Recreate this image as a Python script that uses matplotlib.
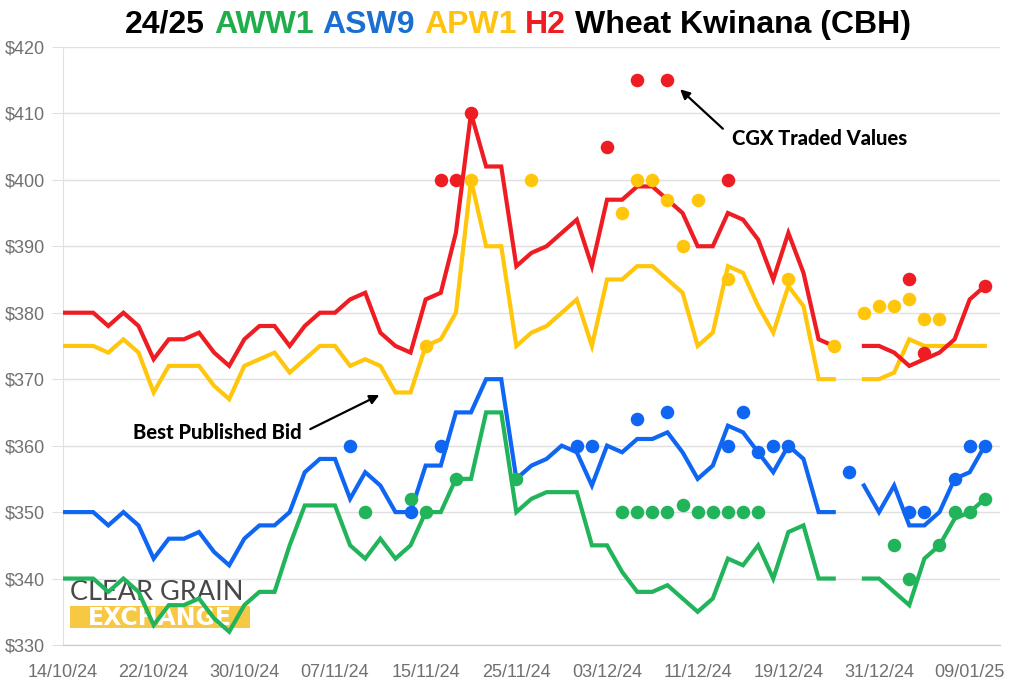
""" CGX wheat bids vs traded values, Kwinana zone """
import numpy as np
import pandas as pd
import matplotlib
matplotlib.use("Agg")
from matplotlib import pyplot as plt
from matplotlib import patches

# trading days (weekends and public holidays are skipped on the axis)
dates = pd.bdate_range("2024-10-14", "2025-01-10", freq="C",
                       holidays=["2024-12-25", "2024-12-26", "2025-01-01"])
tick_every = 6

nan = np.nan

# best published bid per grade ($/t), nan = no bid that day
h2_bid = [380, 380, 380, 378, 380, 378, 373, 376, 376, 377, 374, 372, 376, 378, 378, 375,
          378, 380, 380, 382, 383, 377, 375, 374, 382, 383, 392, 410, 402, 402, 387, 389,
          390, 392, 394, 387, 397, 397, 399, 399, 397, 395, 390, 390, 395, 394, 391, 385,
          392, 386, 376, 375, nan, 375, 375, 374, 372, 373, 374, 376, 382, 384]
apw1_bid = [375, 375, 375, 374, 376, 374, 368, 372, 372, 372, 369, 367, 372, 373, 374, 371,
            373, 375, 375, 372, 373, 372, 368, 368, 375, 376, 380, 400, 390, 390, 375, 377,
            378, 380, 382, 375, 385, 385, 387, 387, 385, 383, 375, 377, 387, 386, 381, 377,
            384, 381, 370, 370, nan, 370, 370, 371, 376, 375, 375, 375, 375, 375]
asw9_bid = [350, 350, 350, 348, 350, 348, 343, 346, 346, 347, 344, 342, 346, 348, 348, 350,
            356, 358, 358, 352, 356, 354, 350, 350, 357, 357, 365, 365, 370, 370, 355, 357,
            358, 360, 359, 354, 360, 359, 361, 361, 362, 359, 355, 357, 363, 362, 359, 356,
            360, 358, 350, 350, nan, 354, 350, 354, 348, 348, 350, 355, 356, 360]
aww1_bid = [340, 340, 340, 338, 340, 338, 333, 336, 336, 337, 334, 332, 336, 338, 338, 345,
            351, 351, 351, 345, 343, 346, 343, 345, 350, 350, 355, 355, 365, 365, 350, 352,
            353, 353, 353, 345, 345, 341, 338, 338, 339, 337, 335, 337, 343, 342, 345, 340,
            347, 348, 340, 340, nan, 340, 340, 338, 336, 343, 345, 349, 350, 352]

# CGX traded values
h2_trade_dates = ["18/11/24", "19/11/24", "20/11/24", "03/12/24", "05/12/24", "09/12/24",
                  "13/12/24", "03/01/25", "06/01/25", "10/01/25"]
h2_trade = [400, 400, 410, 405, 415, 415, 400, 385, 374, 384]
apw1_trade_dates = ["15/11/24", "20/11/24", "26/11/24", "04/12/24", "05/12/24", "06/12/24",
                    "09/12/24", "10/12/24", "11/12/24", "13/12/24", "19/12/24", "24/12/24",
                    "30/12/24", "31/12/24", "02/01/25", "03/01/25", "06/01/25", "07/01/25"]
apw1_trade = [375, 400, 400, 395, 400, 400, 397, 390, 397, 385, 385, 375,
              380, 381, 381, 382, 379, 379]
asw9_trade_dates = ["08/11/24", "14/11/24", "18/11/24", "29/11/24", "02/12/24", "05/12/24",
                    "09/12/24", "13/12/24", "16/12/24", "17/12/24", "18/12/24", "19/12/24",
                    "27/12/24", "03/01/25", "06/01/25", "08/01/25", "09/01/25", "10/01/25"]
asw9_trade = [360, 350, 360, 360, 360, 364, 365, 360, 365, 359, 360, 360,
              356, 350, 350, 355, 360, 360]
aww1_trade_dates = ["11/11/24", "14/11/24", "15/11/24", "19/11/24", "25/11/24", "04/12/24",
                    "05/12/24", "06/12/24", "09/12/24", "10/12/24", "11/12/24", "12/12/24",
                    "13/12/24", "16/12/24", "17/12/24", "02/01/25", "03/01/25", "07/01/25",
                    "08/01/25", "09/01/25", "10/01/25"]
aww1_trade = [350, 352, 350, 355, 355, 350, 350, 350, 350, 351, 350, 350,
              350, 350, 350, 345, 340, 345, 350, 350, 352]

# colours
RED = "#EE1D23"
YELLOW = "#FFC60B"
BLUE = "#0F66F2"
GREEN = "#22B45A"
TITLE_GREEN = "#1FAE4B"
TITLE_BLUE = "#1B6FD1"
TITLE_YELLOW = "#FFC20E"
TICK_GREY = "#707070"
GRID_GREY = "#E0E0E0"
LOGO_YELLOW = "#F7C843"


def day_pos(date_strings):
    """ map dd/mm/yy strings to the categorical x position """
    d = pd.to_datetime(date_strings, format="%d/%m/%y")
    return dates.get_indexer(d)


fig = plt.figure(figsize=(10.24, 6.83), dpi=100)
ax = fig.add_axes([0.0615, 0.0556, 0.915, 0.8758])

x = np.arange(len(dates))

# published bids as lines, traded values as dots
series = [
    (aww1_bid, aww1_trade_dates, aww1_trade, GREEN),
    (asw9_bid, asw9_trade_dates, asw9_trade, BLUE),
    (apw1_bid, apw1_trade_dates, apw1_trade, YELLOW),
    (h2_bid, h2_trade_dates, h2_trade, RED),
]
for bid, trade_dates, trade, colour in series:
    ax.plot(x, bid, color=colour, linewidth=3.0, solid_joinstyle="miter", zorder=3)
for bid, trade_dates, trade, colour in series:
    ax.scatter(day_pos(trade_dates), trade, s=95, color=colour, linewidths=0, zorder=4)

# axis layout
ax.set_xlim(0, len(dates))
ax.set_ylim(330, 420)
ax.set_yticks(np.arange(330, 421, 10))
ax.set_yticklabels([f"${v}" for v in range(330, 421, 10)])
ticks = x[::tick_every]
ax.set_xticks(ticks)
ax.set_xticklabels([dates[i].strftime("%d/%m/%y") for i in ticks])

ax.grid(axis="y", color=GRID_GREY, linewidth=1.0, zorder=0)
ax.set_axisbelow(True)
for side in ["top", "right"]:
    ax.spines[side].set_visible(False)
ax.spines["left"].set_color(GRID_GREY)
ax.spines["bottom"].set_color("#C8C8C8")
ax.tick_params(axis="y", length=8, color=GRID_GREY, pad=5,
               labelsize=13, labelcolor=TICK_GREY)
ax.tick_params(axis="x", length=0, pad=14, labelsize=13, labelcolor=TICK_GREY)
for lab in ax.get_xticklabels() + ax.get_yticklabels():
    lab.set_fontfamily("Liberation Sans")

# annotations
arrow_kw = dict(arrowstyle="-|>", color="black", lw=1.6, mutation_scale=14)
note_kw = dict(fontsize=14.5, fontweight="black", family="Lato", va="center", zorder=6)
ax.text(44.3, 406.2, "CGX Traded Values", ha="left", **note_kw)
ax.annotate("", xy=(40.7, 413.9), xytext=(43.8, 407.4), arrowprops=arrow_kw, zorder=6)
ax.text(15.8, 362.0, "Best Published Bid", ha="right", **note_kw)
ax.annotate("", xy=(21.1, 367.8), xytext=(16.2, 362.3), arrowprops=arrow_kw, zorder=6)

# logo in the lower left corner (drawn under the lines)
ax.text(0.45, 336.8, "CLEAR GRAIN", fontsize=19.5, family="Lato",
        color="#484848", ha="left", va="baseline", zorder=1)
ax.add_patch(patches.Rectangle((0.45, 332.6), 11.9, 3.2, facecolor=LOGO_YELLOW,
                               edgecolor="none", zorder=1))
ax.text(6.4, 334.05, "EXCHANGE", fontsize=17, fontweight="bold", family="DejaVu Sans",
        color="white", ha="center", va="center", zorder=2)

# multi-coloured title, pieces laid out side by side and centred
title_parts = [("24/25", "black"), ("AWW1", TITLE_GREEN), ("ASW9", TITLE_BLUE),
               ("APW1", TITLE_YELLOW), ("H2", RED), ("Wheat Kwinana (CBH)", "black")]
title_size = 23
title_texts = [fig.text(0, 0.9517, p, color=c, fontsize=title_size, fontweight="bold",
                        family="Liberation Sans", ha="left", va="baseline")
               for p, c in title_parts]
renderer = fig.canvas.get_renderer()
widths = [t.get_window_extent(renderer).width for t in title_texts]
space = 0.278 * title_size * fig.dpi / 72
fig_w = fig.get_figwidth() * fig.dpi
cursor = 518 - (sum(widths) + space * (len(widths) - 1)) / 2
for t, w in zip(title_texts, widths):
    t.set_x(cursor / fig_w)
    cursor += w + space

fig.savefig("out.png", dpi=100, facecolor="white")
